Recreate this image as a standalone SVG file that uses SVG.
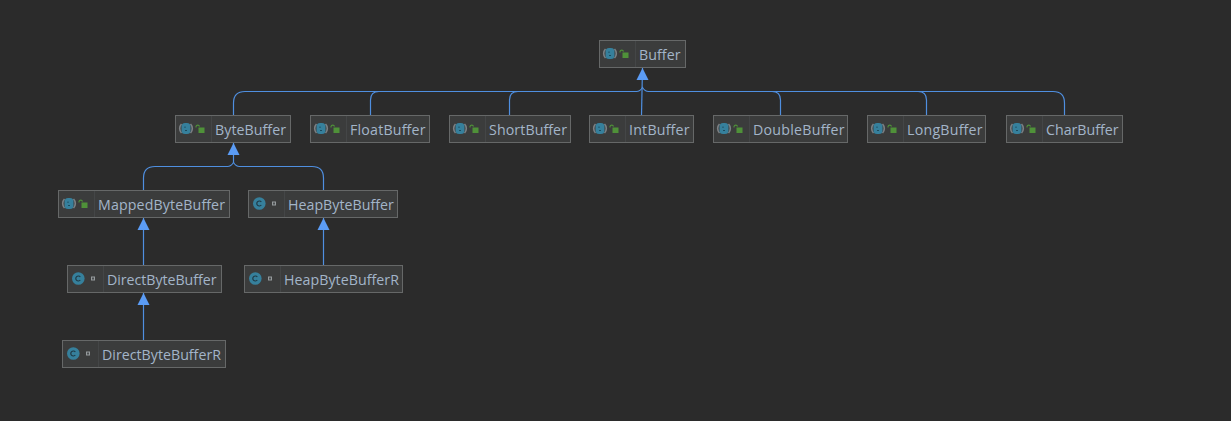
<svg xmlns="http://www.w3.org/2000/svg" width="1231" height="421" viewBox="0 0 1231 421">
<style>
.box{fill:#3b3c3c;stroke:#666868;stroke-width:1}
.sep{stroke:#444647;stroke-width:1}
.lbl{font-family:"Open Sans","Noto Sans","Liberation Sans",sans-serif;font-size:14.2px;fill:#a3b5c9}
.edge{fill:none;stroke:#4f8fe0;stroke-width:1.2}
.head{fill:#5b9cf5}
</style>
<defs>
<g id="abs">
<path d="M-4.500-4.500A6.500 6.500 0 0 0-4.500 4.500M4.500-4.500A6.500 6.500 0 0 1 4.500 4.500" fill="none" stroke="#7c8185" stroke-width="1.600"/>
<rect x="-4.500" y="-5.500" width="9" height="11" rx="3.500" fill="#36809c"/>
<path d="M-1-2V-0.500M-1 2H1" fill="none" stroke="#1d4a5c" stroke-width="1"/>
</g>
<g id="cls">
<circle cx="0" cy="0" r="6.300" fill="#36809c"/>
<path d="M2-1.500A2.500 2.500 0 1 0 2 1.500" fill="none" stroke="#1f3a46" stroke-width="1.200"/>
</g>
<g id="pub">
<rect x="-1.500" y="-1.500" width="6" height="5.500" fill="#4f9139"/>
<path d="M-4-1.500V-2.500A1.800 1.800 0 0 1-0.500-2.500" fill="none" stroke="#4f9139" stroke-width="1.100"/>
</g>
<rect id="pkg" x="-1.500" y="-1.500" width="3" height="3" fill="#4b4e50" stroke="#959a9c" stroke-width="1"/>
</defs>
<rect width="1231" height="421" fill="#2b2b2b"/>
<g id="connectors">
<path class="edge" d="M233.500 115V103Q233.500 91.500 245 91.500H636.500Q640 91.500 642.500 87.500Q645 91.500 648.500 91.500H1053Q1064.500 91.500 1064.500 103V115"/>
<path class="edge" d="M370.500 115V100Q370.500 91.500 379 91.500"/>
<path class="edge" d="M509.500 115V100Q509.500 91.500 518 91.500"/>
<path class="edge" d="M641.500 115L642.500 68"/>
<path class="edge" d="M780.500 115V100Q780.500 91.500 772 91.500"/>
<path class="edge" d="M926.500 115V100Q926.500 91.500 918 91.500"/>
<path class="edge" d="M233.500 143V163"/>
<path class="edge" d="M143.500 190V178Q143.500 166.500 155 166.500H227.500Q231 166.500 233.500 162.500Q236 166.500 239.500 166.500H312Q323.500 166.500 323.500 178V190"/>
<path class="edge" d="M143.500 218V265"/>
<path class="edge" d="M323.500 218V265"/>
<path class="edge" d="M143.500 293V340"/>
<path class="head" d="M642.500 68L648.500 80H636.500Z"/>
<path class="head" d="M233.500 143L239.500 155H227.500Z"/>
<path class="head" d="M143.500 218L149.500 230H137.500Z"/>
<path class="head" d="M323.500 218L329.500 230H317.500Z"/>
<path class="head" d="M143.500 293L149.500 305H137.500Z"/>
</g>
<g id="n-Buffer"><rect class="box" x="599.500" y="40.500" width="86" height="27"/><path class="sep" d="M635.500 41V67"/><use href="#abs" x="610" y="53.500"/><use href="#pub" x="624" y="54"/><text class="lbl" x="639" y="60" textLength="41.500">Buffer</text></g>
<g id="n-ByteBuffer"><rect class="box" x="175.500" y="115.500" width="115" height="27"/><path class="sep" d="M211.500 116V142"/><use href="#abs" x="186" y="128.500"/><use href="#pub" x="200" y="129"/><text class="lbl" x="215" y="135" textLength="71">ByteBuffer</text></g>
<g id="n-FloatBuffer"><rect class="box" x="310.500" y="115.500" width="119" height="27"/><path class="sep" d="M346.500 116V142"/><use href="#abs" x="321" y="128.500"/><use href="#pub" x="335" y="129"/><text class="lbl" x="350" y="135" textLength="75.500">FloatBuffer</text></g>
<g id="n-ShortBuffer"><rect class="box" x="449.500" y="115.500" width="121" height="27"/><path class="sep" d="M485.500 116V142"/><use href="#abs" x="460" y="128.500"/><use href="#pub" x="474" y="129"/><text class="lbl" x="489" y="135" textLength="78">ShortBuffer</text></g>
<g id="n-IntBuffer"><rect class="box" x="589.500" y="115.500" width="104" height="27"/><path class="sep" d="M625.500 116V142"/><use href="#abs" x="600" y="128.500"/><use href="#pub" x="614" y="129"/><text class="lbl" x="629" y="135" textLength="60.500">IntBuffer</text></g>
<g id="n-DoubleBuffer"><rect class="box" x="713.500" y="115.500" width="134" height="27"/><path class="sep" d="M749.500 116V142"/><use href="#abs" x="724" y="128.500"/><use href="#pub" x="738" y="129"/><text class="lbl" x="753" y="135" textLength="91.500">DoubleBuffer</text></g>
<g id="n-LongBuffer"><rect class="box" x="867.500" y="115.500" width="118" height="27"/><path class="sep" d="M903.500 116V142"/><use href="#abs" x="878" y="128.500"/><use href="#pub" x="892" y="129"/><text class="lbl" x="907" y="135" textLength="75.500">LongBuffer</text></g>
<g id="n-CharBuffer"><rect class="box" x="1006.500" y="115.500" width="116" height="27"/><path class="sep" d="M1042.500 116V142"/><use href="#abs" x="1017" y="128.500"/><use href="#pub" x="1031" y="129"/><text class="lbl" x="1046" y="135" textLength="72.500">CharBuffer</text></g>
<g id="n-MappedByteBuffer"><rect class="box" x="58.500" y="190.500" width="171" height="27"/><path class="sep" d="M94.500 191V217"/><use href="#abs" x="69" y="203.500"/><use href="#pub" x="83" y="204"/><text class="lbl" x="98" y="210" textLength="127">MappedByteBuffer</text></g>
<g id="n-HeapByteBuffer"><rect class="box" x="248.500" y="190.500" width="149" height="27"/><path class="sep" d="M284.500 191V217"/><use href="#cls" x="259.300" y="203.500"/><use href="#pkg" x="274" y="203.500"/><text class="lbl" x="288" y="210" textLength="105.800">HeapByteBuffer</text></g>
<g id="n-DirectByteBuffer"><rect class="box" x="67.500" y="265.500" width="154" height="27"/><path class="sep" d="M103.500 266V292"/><use href="#cls" x="78.300" y="278.500"/><use href="#pkg" x="93" y="278.500"/><text class="lbl" x="107" y="285" textLength="109.500">DirectByteBuffer</text></g>
<g id="n-HeapByteBufferR"><rect class="box" x="244.500" y="265.500" width="158" height="27"/><path class="sep" d="M280.500 266V292"/><use href="#cls" x="255.300" y="278.500"/><use href="#pkg" x="270" y="278.500"/><text class="lbl" x="284" y="285" textLength="115">HeapByteBufferR</text></g>
<g id="n-DirectByteBufferR"><rect class="box" x="62.500" y="340.500" width="163" height="27"/><path class="sep" d="M98.500 341V367"/><use href="#cls" x="73.300" y="353.500"/><use href="#pkg" x="88" y="353.500"/><text class="lbl" x="102" y="360" textLength="119">DirectByteBufferR</text></g>
</svg>
